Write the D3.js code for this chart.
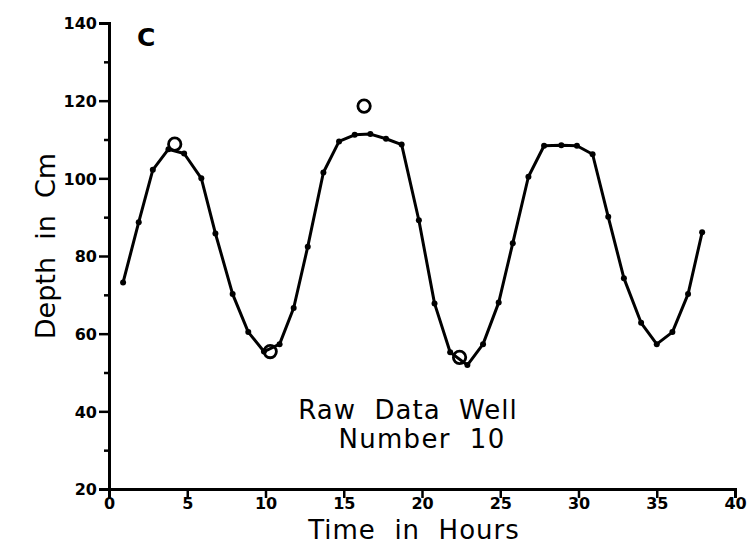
<!DOCTYPE html>
<html>
<head>
<meta charset="utf-8">
<script src="https://cdn.jsdelivr.net/npm/d3@7"></script>
<style>
  body { margin: 0; background: #fff; }
  text { fill: #000; white-space: pre; }
</style>
</head>
<body>
<div id="chart"></div>
<script>
// raw well readings
var hours = [0.9, 1.9, 2.8, 3.8, 4.8, 5.9, 6.8, 7.9, 8.9, 9.9,
  10.9, 11.8, 12.7, 13.7, 14.7, 15.7, 16.7, 17.7, 18.7, 19.8,
  20.8, 21.8, 22.9, 23.9, 24.9, 25.8, 26.8, 27.8, 28.9, 29.9,
  30.9, 31.9, 32.9, 34.0, 35.0, 36.0, 37.0, 37.9];
var depth = [73.2, 88.7, 102.2, 107.5, 106.4, 100.0, 85.8, 70.2, 60.4, 55.4,
  57.3, 66.6, 82.4, 101.5, 109.5, 111.2, 111.4, 110.2, 108.7, 89.2,
  67.8, 55.2, 51.9, 57.3, 68.0, 83.3, 100.4, 108.4, 108.5, 108.4,
  106.2, 90.1, 74.3, 62.8, 57.3, 60.4, 70.2, 86.1];

// open circles (extremes)
var obsHours = [4.2, 10.3, 16.3, 22.4];
var obsDepth = [108.8, 55.4, 118.6, 53.9];

var xTicks = [0, 5, 10, 15, 20, 25, 30, 35, 40];
var yTicks = [20, 40, 60, 80, 100, 120, 140];
var yMinor = [30, 50, 70, 90, 110, 130];

var width = 747, height = 546;

var svg = d3.select("#chart").append("svg")
  .attr("width", width)
  .attr("height", height);

var x = d3.scaleLinear().domain([0, 40]).range([109, 735]);
var y = d3.scaleLinear().domain([20, 140]).range([489, 23]);

var tickFont = "'DejaVu Sans', sans-serif";
var labelFont = "'DejaVu Sans', 'Noto Sans', sans-serif";

/* ------- AXES -------*/
var xAxis = d3.axisBottom(x).tickValues(xTicks).tickSize(9).tickPadding(0)
  .tickFormat(d3.format("d"));
var gx = svg.append("g")
  .attr("transform", "translate(0," + y(20) + ")")
  .call(xAxis);

var yAxis = d3.axisLeft(y).tickValues(yTicks).tickSize(10).tickPadding(2)
  .tickFormat(d3.format("d"));
var gy = svg.append("g")
  .attr("transform", "translate(" + x(0) + ",0)")
  .call(yAxis);

var gyMinor = svg.append("g")
  .attr("transform", "translate(" + x(0) + ",0)")
  .call(d3.axisLeft(y).tickValues(yMinor).tickSize(5).tickFormat(""));
gyMinor.select(".domain").remove();

[gx, gy, gyMinor].forEach(function(g) {
  g.selectAll(".domain").attr("stroke", "#000").attr("stroke-width", 3);
  g.selectAll(".tick line").attr("stroke", "#000").attr("stroke-width", 2.5);
  g.selectAll(".tick text")
    .style("font-family", tickFont)
    .style("font-weight", "bold")
    .style("font-size", "16px")
    .attr("fill", "#000");
});
gy.selectAll(".tick text").attr("dy", "0.36em");

/* ------- LINE + POINTS -------*/
var pts = hours.map(function(h, i) { return [h, depth[i]]; });

var line = d3.line()
  .x(function(d) { return x(d[0]); })
  .y(function(d) { return y(d[1]); });

svg.append("path")
  .datum(pts)
  .attr("d", line)
  .attr("fill", "none")
  .attr("stroke", "#000")
  .attr("stroke-width", 3)
  .attr("stroke-linejoin", "round");

svg.append("g").selectAll("circle")
  .data(pts)
  .enter().append("circle")
  .attr("cx", function(d) { return x(d[0]); })
  .attr("cy", function(d) { return y(d[1]); })
  .attr("r", 3)
  .attr("fill", "#000");

svg.append("g").selectAll("circle")
  .data(obsHours)
  .enter().append("circle")
  .attr("cx", function(d) { return x(d); })
  .attr("cy", function(d, i) { return y(obsDepth[i]); })
  .attr("r", 6.2)
  .attr("fill", "none")
  .attr("stroke", "#000")
  .attr("stroke-width", 2.8);

/* ------- TEXT -------*/
svg.append("text")
  .attr("x", 137).attr("y", 46)
  .style("font-family", "'DejaVu Sans', sans-serif")
  .style("font-weight", "bold")
  .style("font-size", "25px")
  .text("C");

svg.append("text")
  .attr("x", 408).attr("y", 419)
  .attr("text-anchor", "middle")
  .style("font-family", labelFont)
  .style("font-size", "26px")
  .style("letter-spacing", "1px")
  .text("Raw  Data  Well");

svg.append("text")
  .attr("x", 422).attr("y", 448)
  .attr("text-anchor", "middle")
  .style("font-family", labelFont)
  .style("font-size", "26px")
  .style("letter-spacing", "1.3px")
  .text("Number  10");

svg.append("text")
  .attr("x", 414).attr("y", 539)
  .attr("text-anchor", "middle")
  .style("font-family", labelFont)
  .style("font-size", "26px")
  .style("letter-spacing", "1px")
  .text("Time  in  Hours");

svg.append("text")
  .attr("transform", "translate(55,246) rotate(-90)")
  .attr("text-anchor", "middle")
  .style("font-family", labelFont)
  .style("font-size", "27px")
  .text("Depth  in  Cm");
</script>
</body>
</html>
